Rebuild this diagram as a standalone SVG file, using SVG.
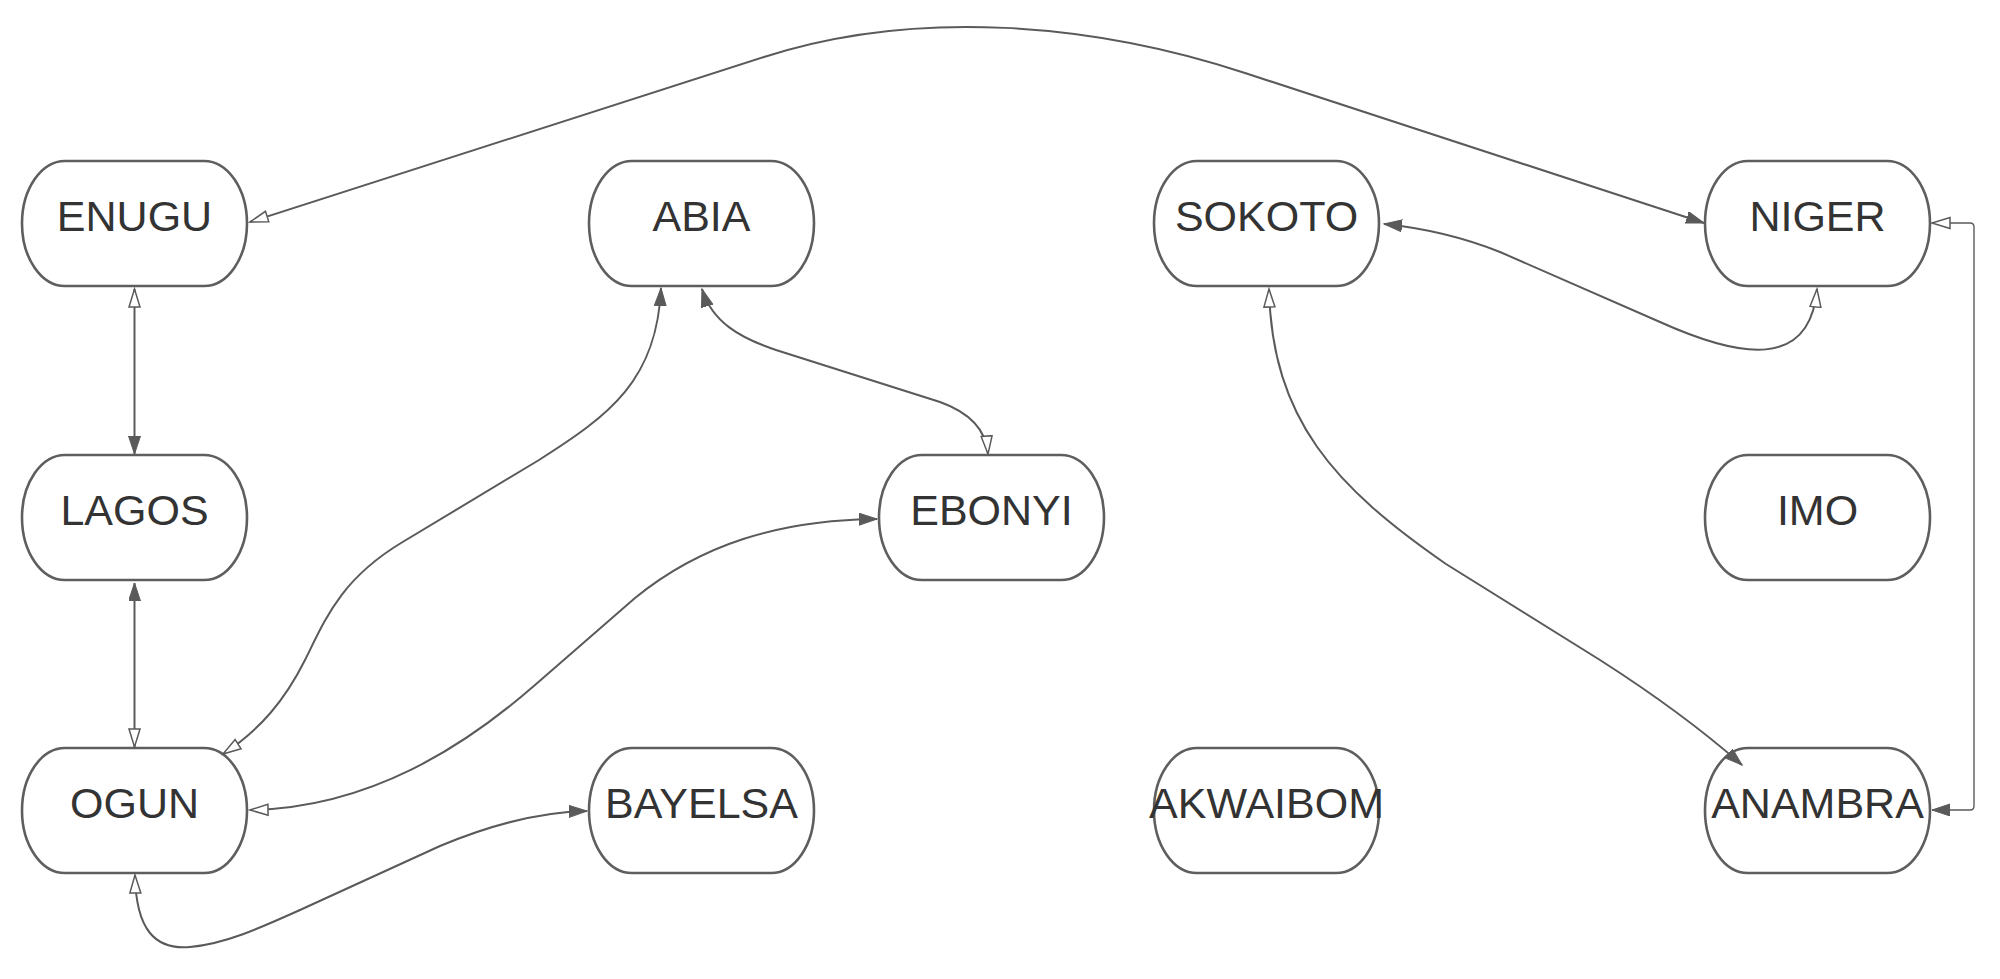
<svg xmlns="http://www.w3.org/2000/svg" width="2000" height="979" viewBox="0 0 2000 979">
<style>
.node path{fill:#ffffff;stroke:#5e5e5e;stroke-width:2.6}
.node text{font-family:"Liberation Sans",Arial,sans-serif;font-size:43px;fill:#333333;text-anchor:middle}
.edge{fill:none;stroke:#5a5a5a;stroke-width:2}
.thin{stroke-width:1.4}
</style>
<defs>
<marker id="filled" markerUnits="userSpaceOnUse" markerWidth="20" markerHeight="14" refX="18" refY="6" orient="auto-start-reverse" viewBox="0 0 20 14">
<path d="M0,0 L18,6 L0,12 z" fill="#5a5a5a" stroke="#5a5a5a" stroke-width="1"/>
</marker>
<marker id="hollow" markerUnits="userSpaceOnUse" markerWidth="22" markerHeight="16" refX="19" refY="7" orient="auto-start-reverse" viewBox="0 0 22 16">
<path d="M1,1.5 L19,7 L1,12.5 z" fill="#ffffff" stroke="#5a5a5a" stroke-width="1.5"/>
</marker>
</defs>
<g id="node-enugu" class="node"><path d="M 65 161 H 204 A 43 62.5 0 0 1 204 286 H 65 A 43 62.5 0 0 1 65 161 Z"/><text x="134.5" y="231">ENUGU</text></g>
<g id="node-abia" class="node"><path d="M 632 161 H 771 A 43 62.5 0 0 1 771 286 H 632 A 43 62.5 0 0 1 632 161 Z"/><text x="701.5" y="231">ABIA</text></g>
<g id="node-sokoto" class="node"><path d="M 1197 161 H 1336 A 43 62.5 0 0 1 1336 286 H 1197 A 43 62.5 0 0 1 1197 161 Z"/><text x="1266.5" y="231">SOKOTO</text></g>
<g id="node-niger" class="node"><path d="M 1748 161 H 1887 A 43 62.5 0 0 1 1887 286 H 1748 A 43 62.5 0 0 1 1748 161 Z"/><text x="1817.5" y="231">NIGER</text></g>
<g id="node-lagos" class="node"><path d="M 65 455 H 204 A 43 62.5 0 0 1 204 580 H 65 A 43 62.5 0 0 1 65 455 Z"/><text x="134.5" y="525">LAGOS</text></g>
<g id="node-ebonyi" class="node"><path d="M 922 455 H 1061 A 43 62.5 0 0 1 1061 580 H 922 A 43 62.5 0 0 1 922 455 Z"/><text x="991.5" y="525">EBONYI</text></g>
<g id="node-imo" class="node"><path d="M 1748 455 H 1887 A 43 62.5 0 0 1 1887 580 H 1748 A 43 62.5 0 0 1 1748 455 Z"/><text x="1817.5" y="525">IMO</text></g>
<g id="node-ogun" class="node"><path d="M 65 748 H 204 A 43 62.5 0 0 1 204 873 H 65 A 43 62.5 0 0 1 65 748 Z"/><text x="134.5" y="818">OGUN</text></g>
<g id="node-bayelsa" class="node"><path d="M 632 748 H 771 A 43 62.5 0 0 1 771 873 H 632 A 43 62.5 0 0 1 632 748 Z"/><text x="701.5" y="818">BAYELSA</text></g>
<g id="node-akwaibom" class="node"><path d="M 1197 748 H 1336 A 43 62.5 0 0 1 1336 873 H 1197 A 43 62.5 0 0 1 1197 748 Z"/><text x="1266.5" y="818">AKWAIBOM</text></g>
<g id="node-anambra" class="node"><path d="M 1748 748 H 1887 A 43 62.5 0 0 1 1887 873 H 1748 A 43 62.5 0 0 1 1748 748 Z"/><text x="1817.5" y="818">ANAMBRA</text></g>
<g id="connectors">
<path class="edge" d="M 250 222 L 764 57 C 916 8, 1093 23, 1245 73 L 1704 223" marker-start="url(#hollow)" marker-end="url(#filled)"/>
<path class="edge" d="M 134.5 289 L 134.5 454" marker-start="url(#hollow)" marker-end="url(#filled)"/>
<path class="edge" d="M 134.5 583 L 134.5 747" marker-start="url(#filled)" marker-end="url(#hollow)"/>
<path class="edge" d="M 661 288 C 657 380, 610 415, 539 460 L 401 543 C 340 580, 325 620, 305 660 C 285 700, 260 730, 223 754" marker-start="url(#filled)" marker-end="url(#hollow)"/>
<path class="edge" d="M 702 289 C 712 322, 740 338, 776 350 L 940 402 C 968 412, 986 428, 988 454" marker-start="url(#filled)" marker-end="url(#hollow)"/>
<path class="edge" d="M 877 519 C 778 520, 700 545, 635 598 L 535 685 C 465 746, 370 808, 250 810" marker-start="url(#filled)" marker-end="url(#hollow)"/>
<path class="edge" d="M 135 875 C 136 930, 155 950, 190 947 C 225 944, 260 928, 300 910 L 440 846 C 490 825, 538 812, 587 811" marker-start="url(#hollow)" marker-end="url(#filled)"/>
<path class="edge" d="M 1384 224 C 1423 228, 1460 236, 1500 252 L 1660 322 C 1740 358, 1810 370, 1817 289" marker-start="url(#filled)" marker-end="url(#hollow)"/>
<path class="edge" d="M 1269 289 C 1272 420, 1335 487, 1446 564 L 1600 660 C 1650 692, 1700 728, 1742 765" marker-start="url(#hollow)" marker-end="url(#filled)"/>
<path class="edge thin" d="M 1932 223 H 1970 Q 1974 223 1974 227 V 806 Q 1974 810 1970 810 H 1932" marker-start="url(#hollow)" marker-end="url(#filled)"/>
</g>
</svg>
